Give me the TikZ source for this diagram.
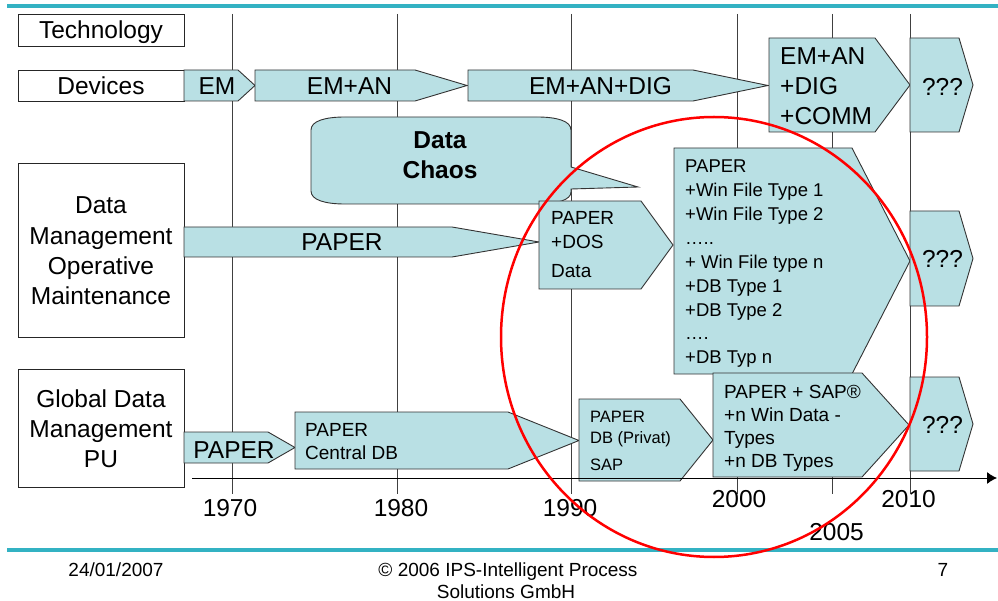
\documentclass[tikz,border=0pt]{standalone}
\usepackage{fontspec}
\setmainfont{Liberation Sans}
\usetikzlibrary{arrows,arrows.meta}
\tikzset{>=latex}
\definecolor{plateblue}{RGB}{185,224,228}
\definecolor{barteal}{RGB}{51,178,195}
\tikzstyle{plate}=[draw=black!80,fill=plateblue,line width=0.9pt]
\tikzstyle{labelbox}=[draw=black!85,fill=white,line width=0.9pt]
\tikzstyle{gridline}=[draw=black!75,line width=0.9pt]
\tikzstyle{txtL}=[inner sep=0pt,anchor=base,font=\fontsize{24.5}{30}\selectfont]
\tikzstyle{txtM}=[inner sep=0pt,anchor=base west,font=\fontsize{19}{23}\selectfont]
\tikzstyle{txtS}=[inner sep=0pt,anchor=base west,font=\fontsize{18.5}{23}\selectfont]
\tikzstyle{txtXS}=[inner sep=0pt,anchor=base west,font=\fontsize{16.5}{20}\selectfont]
\tikzstyle{foot}=[inner sep=0pt,anchor=base,font=\fontsize{19}{22}\selectfont]

% name, left, top, end of flat part, tip, bottom
\newcommand{\homeplate}[6]{%
	\draw[plate] (#2,#3) -- (#4,#3) -- (#5,{(#3+#6)/2}) -- (#4,#6) -- (#2,#6) -- cycle;
	\coordinate (#1) at (#5,{(#3+#6)/2});}

\begin{document}
\begin{tikzpicture}[x=1pt,y=-1pt]
	\useasboundingbox (0,0) rectangle (998,601);

	% teal bars
	\draw[barteal,line width=4pt] (7,6) -- (998,6);
	\draw[barteal,line width=4pt] (7,550) -- (998,550);

	% years
	\foreach \x in {232,397,571,737,832,910} {
		\draw[gridline] (\x,14) -- (\x,494);
	};

	% row labels
	\draw[labelbox] (18,14) rectangle (184,46);
	\node[txtL] (tech) at (101,38.5) {Technology};
	\draw[labelbox] (18,70) rectangle (184,101);
	\node[txtL] (dev) at (101,95) {Devices};
	\draw[labelbox] (18,163) rectangle (184,337);
	\foreach \t [count=\i from 0] in {Data,Management,Operative,Maintenance} {
		\node[txtL] (dm\i) at (101,214+30.3*\i) {\t};
	};
	\draw[labelbox] (18,369) rectangle (184,487);
	\foreach \t [count=\i from 0] in {Global Data,Management,PU} {
		\node[txtL] (gd\i) at (101,407+30*\i) {\t};
	};

	% callout
	\draw[plate] (311,130) .. controls (311,121) and (325,117) .. (345,117) -- (537,117)
		.. controls (557,117) and (571,121) .. (571,130) -- (571,167) -- (638,187) -- (571,189)
		-- (571,192) .. controls (571,200) and (557,204) .. (537,204) -- (345,204)
		.. controls (325,204) and (311,200) .. (311,191) -- cycle;
	\node[txtL,font=\fontsize{24.5}{30}\selectfont\bfseries] (chaos1) at (440,149) {Data};
	\node[txtL,font=\fontsize{24.5}{30}\selectfont\bfseries] (chaos2) at (440,179) {Chaos};

	% devices
	\homeplate{pEM}{184}{70}{238}{255}{101}
	\homeplate{pEMAN}{255}{70}{415}{467}{101}
	\homeplate{pDIG}{468}{70}{693}{768}{101}
	\homeplate{pCOMM}{769}{38}{875}{910}{132}
	\homeplate{pQa}{910}{38}{959}{973}{132}
	\node[txtL] (em) at (217,95) {EM};
	\node[txtL] (eman) at (349.5,95) {EM+AN};
	\node[txtL] (dig) at (600.5,95) {EM+AN+DIG};
	\foreach \t [count=\i from 0] in {EM+AN,+DIG,+COMM} {
		\node[txtL,anchor=base west] (comm\i) at (780,65+30*\i) {\t};
	};
	\node[txtL] (qa) at (942.5,96) {???};

	% data management
	\homeplate{pPaper}{184}{227}{452}{539}{257}
	\homeplate{pDOS}{539}{201}{641}{673}{289}
	\homeplate{pWin}{674}{148}{852}{910}{374}
	\homeplate{pQb}{910}{211}{959}{973}{306}
	\node[txtL] (paper) at (342,251) {PAPER};
	\node[txtM] (dos0) at (551,225) {PAPER};
	\node[txtM] (dos1) at (551,249) {+DOS};
	\node[txtM] (dos2) at (551,277.7) {Data};
	\foreach \t [count=\i from 0] in {PAPER,+Win File Type 1,+Win File Type 2,…..,+ Win File type n,+DB Type 1,+DB Type 2,….,+DB Typ n} {
		\node[txtS] (win\i) at (685,172.7+23.9*\i) {\t};
	};
	\node[txtL] (qb) at (942.5,268) {???};

	% global data management
	\homeplate{pPaperG}{184}{432}{268}{295}{463}
	\homeplate{pCentral}{295}{412}{508}{579}{469}
	\homeplate{pPrivat}{579}{399}{680}{713}{481}
	\homeplate{pSAP}{713}{373}{862}{909}{477}
	\homeplate{pQc}{910}{377}{959}{973}{471}
	\node[txtL] (paperg) at (234,458) {PAPER};
	\node[txtM] (central0) at (305,436) {PAPER};
	\node[txtM] (central1) at (305,459) {Central DB};
	\node[txtXS] (privat0) at (590,422) {PAPER};
	\node[txtXS] (privat1) at (590,443) {DB (Privat)};
	\node[txtXS] (privat2) at (590,470) {SAP};
	\foreach \t [count=\i from 0] in {PAPER + SAP®,+n Win Data -,Types,+n DB Types} {
		\node[txtM] (sap\i) at (724,398+23*\i) {\t};
	};
	\node[txtL] (qc) at (942.5,433) {???};

	% time axis
	\coordinate (axisL) at (192,478);
	\coordinate (axisR) at (997,478);
	\draw[black,line width=0.9pt,-{Latex[length=10pt,width=12pt]}] (axisL) -- (axisR);
	\foreach \yr/\x/\y in {1970/230/516,1980/401/516,1990/570/516,2000/739/507,2005/836.5/540,2010/908.5/507} {
		\node[txtL] (yr\yr) at (\x,\y) {\yr};
	};

	% red ellipse
	\draw[red,line width=2.5pt] (714,337) ellipse [x radius=213,y radius=220];

	% footer
	\node[foot] (date) at (116,576) {24/01/2007};
	\node[foot] (copy1) at (508,576) {© 2006 IPS-Intelligent Process};
	\node[foot] (copy2) at (506,598) {Solutions GmbH};
	\node[foot] (page) at (943,576) {7};
\end{tikzpicture}
\end{document}
